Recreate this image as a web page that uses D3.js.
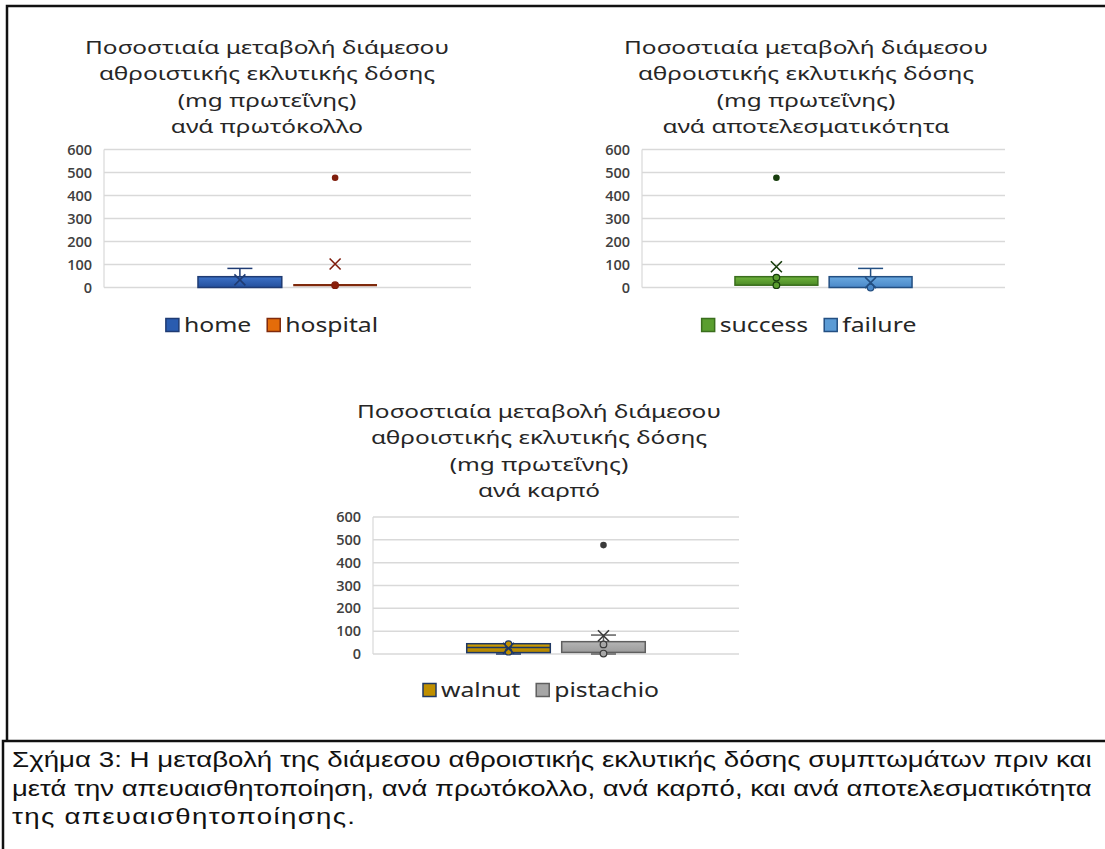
<!DOCTYPE html>
<html>
<head>
<meta charset="utf-8">
<script src="https://cdn.jsdelivr.net/npm/d3@7"></script>
<style>
  html, body { margin: 0; padding: 0; background: #fff; overflow: hidden; }
  svg { display: block; }
</style>
</head>
<body>
<svg id="fig" width="1105" height="849"></svg>
<script>
// ---- data ----------------------------------------------------------------
const yTicks = [0, 100, 200, 300, 400, 500, 600];

const titleLines = [
  "Ποσοστιαία μεταβολή διάμεσου",
  "αθροιστικής εκλυτικής δόσης",
  "(mg πρωτεΐνης)"
];
const panelSubtitles = ["ανά πρωτόκολλο", "ανά αποτελεσματικότητα", "ανά καρπό"];

// per series: [min, q1, median, q3, max]
const protocolNames = ["home", "hospital"];
const protocolQuartiles = [[0, 0, 0, 47, 83], [10, 10, 10, 10, 10]];
const protocolMeans = [33, 102];
const protocolPoints = [[], [10]];
const protocolOutliers = [[], [477]];

const outcomeNames = ["success", "failure"];
const outcomeQuartiles = [[10, 10, 10, 47, 47], [0, 0, 0, 47, 83]];
const outcomeMeans = [90, 21];
const outcomePoints = [[43, 10], [0]];
const outcomeOutliers = [[477], []];

const fruitNames = ["walnut", "pistachio"];
const fruitQuartiles = [[0, 6, 28, 45, 45], [0, 7, 7, 54, 83]];
const fruitMeans = [25, 80];
const fruitPoints = [[43, 10], [42, 2]];
const fruitOutliers = [[], [477]];

const captionLines = [
  "Σχήμα 3: Η μεταβολή της διάμεσου αθροιστικής εκλυτικής δόσης συμπτωμάτων πριν και",
  "μετά την απευαισθητοποίηση, ανά πρωτόκολλο, ανά καρπό, και ανά αποτελεσματικότητα",
  "της απευαισθητοποίησης."
];

// ---- styles ----------------------------------------------------------------
const seriesStyle = {
  home:      { top: "#3d72c8", bottom: "#234f9c", stroke: "#1f3b73", mark: "#1f3b73", dot: "#1f3b73", legend: "#2a5cb0" },
  hospital:  { top: "#f08a3c", bottom: "#c55a11", stroke: "#7f2a0c", mark: "#7f1d0c", dot: "#8a1f0a", legend: "#e46c0a" },
  success:   { top: "#6fb33c", bottom: "#4c8a26", stroke: "#3a6e1d", mark: "#173d0c", dot: "#5a9e2f", legend: "#5a9e2f" },
  failure:   { top: "#6aa9e0", bottom: "#4a88c8", stroke: "#234f82", mark: "#234f82", dot: "#4a88c8", legend: "#5b9bd5" },
  walnut:    { top: "#d1a000", bottom: "#b08300", stroke: "#1f3864", mark: "#1f3864", dot: "#bf8f00", legend: "#bf8f00" },
  pistachio: { top: "#b5b5b5", bottom: "#9c9c9c", stroke: "#5f5f5f", mark: "#3a3a3a", dot: "#a6a6a6", legend: "#a6a6a6" }
};

const panels = [
  { names: protocolNames, q: protocolQuartiles, means: protocolMeans, pts: protocolPoints, out: protocolOutliers,
    sub: panelSubtitles[0], x0: 104, x1: 471, y0: 149.5, y1: 287.5, titleX: 267, titleY: 54, legendX: 272, legendY: 325 },
  { names: outcomeNames, q: outcomeQuartiles, means: outcomeMeans, pts: outcomePoints, out: outcomeOutliers,
    sub: panelSubtitles[1], x0: 642, x1: 1005, y0: 149.5, y1: 287.5, titleX: 806, titleY: 54, legendX: 809, legendY: 325 },
  { names: fruitNames, q: fruitQuartiles, means: fruitMeans, pts: fruitPoints, out: fruitOutliers,
    sub: panelSubtitles[2], x0: 373, x1: 739, y0: 517, y1: 654, titleX: 539, titleY: 418, legendX: 541, legendY: 690 }
];

const titleStretch = 1.32;   // horizontal stretch of the title lettering
const legendStretch = 1.27;  // horizontal stretch of the legend lettering

const svg = d3.select("#fig");
const defs = svg.append("defs");

Object.entries(seriesStyle).forEach(([k, s]) => {
  const g = defs.append("linearGradient").attr("id", "grad-" + k)
    .attr("x1", 0).attr("y1", 0).attr("x2", 0).attr("y2", 1);
  g.append("stop").attr("offset", "0%").attr("stop-color", s.top);
  g.append("stop").attr("offset", "100%").attr("stop-color", s.bottom);
});

// ---- frame -----------------------------------------------------------------
svg.append("path").attr("d", "M7,741 V6 H1110")
  .attr("fill", "none").attr("stroke", "#111").attr("stroke-width", 2.5);
svg.append("path").attr("d", "M1110,741 H3 V852")
  .attr("fill", "none").attr("stroke", "#111").attr("stroke-width", 2.5);

// ---- panels ----------------------------------------------------------------
panels.forEach(p => {
  const g = svg.append("g");

  // title
  const lines = titleLines.concat([p.sub]);
  g.append("text")
    .attr("transform", `translate(${p.titleX},0) scale(${titleStretch},1)`)
    .attr("font-family", "'Noto Sans', sans-serif")
    .attr("font-size", 18.5)
    .attr("fill", "#262626")
    .attr("text-anchor", "middle")
    .selectAll("tspan").data(lines).join("tspan")
    .attr("x", 0)
    .attr("y", (d, i) => p.titleY + i * 26.3)
    .text(d => d);

  const y = d3.scaleLinear().domain([0, 600]).range([p.y1, p.y0]);
  const xCat = d3.scaleBand().domain(["all"]).range([p.x0, p.x1]).paddingInner(0).paddingOuter(0.525);
  const xSer = d3.scaleBand().domain(p.names).range([0, xCat.bandwidth()]).paddingInner(0.12);

  // gridlines
  g.append("g").selectAll("line").data(yTicks).join("line")
    .attr("x1", p.x0).attr("x2", p.x1)
    .attr("y1", d => y(d)).attr("y2", d => y(d))
    .attr("stroke", "#d9d9d9").attr("stroke-width", 1.5);
  g.append("line").attr("x1", p.x0).attr("x2", p.x0)
    .attr("y1", y(600)).attr("y2", y(0))
    .attr("stroke", "#d9d9d9").attr("stroke-width", 1.2);

  // y axis labels
  const axis = d3.axisLeft(y).tickValues(yTicks).tickSize(0).tickPadding(12);
  const ag = g.append("g").attr("transform", `translate(${p.x0},0)`).call(axis);
  ag.select(".domain").remove();
  ag.selectAll("text")
    .attr("font-family", "'Open Sans', sans-serif")
    .attr("font-size", 14.5)
    .attr("font-weight", 600)
    .attr("fill", "#404040");

  // boxes
  p.names.forEach((name, i) => {
    const s = seriesStyle[name];
    const [mn, q1, med, q3, mx] = p.q[i];
    const bx = xCat("all") + xSer(name);
    const bw = xSer.bandwidth();
    const cx = bx + bw / 2;
    const cap = 12.5;
    const sg = g.append("g");

    // whiskers
    if (mx > q3) {
      sg.append("line").attr("x1", cx).attr("x2", cx).attr("y1", y(q3)).attr("y2", y(mx))
        .attr("stroke", s.stroke).attr("stroke-width", 1.5);
      sg.append("line").attr("x1", cx - cap).attr("x2", cx + cap).attr("y1", y(mx)).attr("y2", y(mx))
        .attr("stroke", s.stroke).attr("stroke-width", 1.5);
    }
    if (mn < q1) {
      sg.append("line").attr("x1", cx).attr("x2", cx).attr("y1", y(q1)).attr("y2", y(mn))
        .attr("stroke", s.stroke).attr("stroke-width", 1.5);
      sg.append("line").attr("x1", cx - cap).attr("x2", cx + cap).attr("y1", y(mn)).attr("y2", y(mn))
        .attr("stroke", s.stroke).attr("stroke-width", 1.5);
    }

    // box
    if (q3 > q1) {
      sg.append("rect").attr("x", bx).attr("y", y(q3)).attr("width", bw).attr("height", y(q1) - y(q3))
        .attr("fill", `url(#grad-${name})`).attr("stroke", s.stroke).attr("stroke-width", 1.5);
    } else {
      sg.append("line").attr("x1", bx).attr("x2", bx + bw).attr("y1", y(q1)).attr("y2", y(q1))
        .attr("stroke", s.stroke).attr("stroke-width", 2.2);
    }
    // median
    if (med > q1 && med < q3) {
      sg.append("line").attr("x1", bx).attr("x2", bx + bw).attr("y1", y(med)).attr("y2", y(med))
        .attr("stroke", s.stroke).attr("stroke-width", 1.5);
    }

    // inner points
    sg.selectAll("circle.pt").data(p.pts[i]).join("circle").attr("class", "pt")
      .attr("cx", cx).attr("cy", d => y(d)).attr("r", 3.3)
      .attr("fill", s.dot).attr("stroke", s.mark).attr("stroke-width", 1.2);

    // outliers
    sg.selectAll("circle.out").data(p.out[i]).join("circle").attr("class", "out")
      .attr("cx", cx).attr("cy", d => y(d)).attr("r", 3.3)
      .attr("fill", s.mark);

    // mean marker
    const my = y(p.means[i]), m = 5.5;
    sg.append("path")
      .attr("d", `M${cx - m},${my - m}L${cx + m},${my + m}M${cx - m},${my + m}L${cx + m},${my - m}`)
      .attr("stroke", s.mark).attr("stroke-width", 1.6).attr("fill", "none");
  });

  // legend
  const lg = g.append("g");
  const items = lg.selectAll("g").data(p.names).join("g");
  items.append("rect").attr("width", 13).attr("height", 13).attr("y", -6.5)
    .attr("fill", d => seriesStyle[d].legend).attr("stroke", d => seriesStyle[d].stroke).attr("stroke-width", 1.5);
  items.append("text")
    .attr("transform", `translate(18,0) scale(${legendStretch},1)`)
    .attr("dy", "0.35em")
    .attr("font-family", "'Noto Sans', sans-serif").attr("font-size", 19.5).attr("fill", "#262626")
    .text(d => d);
  let off = 0;
  items.each(function () {
    const t = d3.select(this).select("text").node();
    const w = 18 + t.getComputedTextLength() * legendStretch;
    d3.select(this).attr("transform", `translate(${off},0)`);
    off += w + 16;
  });
  const total = off - 16;
  lg.attr("transform", `translate(${p.legendX - total / 2},${p.legendY})`);
});

// ---- caption: full lines fill the width, last line spaced out -------------
const capX = 12, capRight = 1092, capLastWidth = 343;
const capG = svg.append("g");
const capTexts = captionLines.map(line => capG.append("text")
  .attr("font-family", "'Liberation Sans', Arial, sans-serif")
  .attr("font-size", 21.5)
  .attr("fill", "#111")
  .text(line));
const widths = capTexts.map(t => t.node().getComputedTextLength());
const fullScales = [0, 1].map(i => (capRight - capX) / widths[i]);
const lastScale = (fullScales[0] + fullScales[1]) / 2;
capTexts.forEach((t, i) => {
  const kx = i < 2 ? fullScales[i] : lastScale;
  t.attr("transform", `translate(${capX},${767 + i * 28.5}) scale(${kx},1)`);
  if (i === 2 && widths[2] * kx < capLastWidth) {
    t.attr("textLength", capLastWidth / kx).attr("lengthAdjust", "spacing");
  }
});
</script>
</body>
</html>
